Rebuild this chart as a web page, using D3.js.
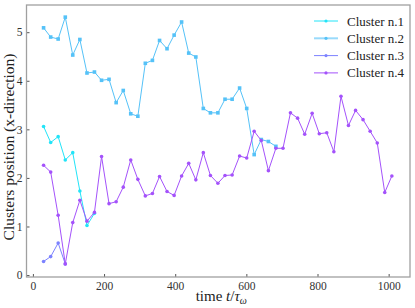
<!DOCTYPE html>
<html>
<head>
<meta charset="utf-8">
<script src="https://cdn.jsdelivr.net/npm/d3@7"></script>
<style>
  body { margin: 0; background: #fff; }
</style>
</head>
<body>
<svg id="chart"></svg>
<script>
// time of each snapshot (t / tau_w)
var times = [30, 50, 71, 91, 112, 132, 152, 173, 193, 214, 234, 254, 275, 295, 316, 336,
  356, 377, 397, 418, 438, 458, 479, 499, 520, 540, 560, 581, 601, 622, 642, 662, 683,
  703, 724, 744, 764, 785, 805, 826, 846, 866, 887, 907, 928, 948, 968, 989, 1009];

// cluster positions, each list starts at times[0]
var cluster1 = [3.06, 2.73, 2.85, 2.37, 2.52, 1.73, 1.02, 1.27];
var cluster2 = [5.09, 4.90, 4.86, 5.31, 4.53, 4.85, 4.16, 4.18, 4.01, 4.03, 3.55, 3.80,
  3.32, 3.27, 4.36, 4.42, 4.83, 4.66, 4.94, 5.21, 4.57, 4.49, 3.43, 3.34, 3.34, 3.62,
  3.62, 3.85, 3.43, 2.48, 2.79, 2.75, 2.65];
var cluster3 = [0.28, 0.38, 0.66, 0.23];
var cluster4 = [2.26, 2.12, 1.23, 0.23, 1.08, 1.54, 1.11, 1.29, 2.44, 1.47, 1.51, 1.81,
  2.37, 1.97, 1.63, 1.68, 2.03, 1.72, 1.64, 2.04, 2.30, 1.96, 2.52, 2.05, 1.89, 2.05,
  2.06, 2.45, 2.41, 2.96, 2.77, 2.15, 2.61, 2.61, 3.34, 3.23, 2.90, 3.33, 2.91, 2.93,
  2.54, 3.68, 3.08, 3.39, 3.20, 2.96, 2.72, 1.70, 2.04];

var names = ["Cluster n.1", "Cluster n.2", "Cluster n.3", "Cluster n.4"];
var xTicks = [0, 200, 400, 600, 800, 1000];
var yTicks = [0, 1, 2, 3, 4, 5];

var colors = ["#22e4f8", "#55c2f8", "#7c82ff", "#a452fb"];
var markers = ["circle", "square", "circle", "circle"];
var serif = "'Liberation Serif', 'DejaVu Serif', 'Times New Roman', serif";

var width = 415, height = 308,
  margin = {top: 5, right: 5, bottom: 31, left: 26.5},
  plotW = width - margin.left - margin.right,
  plotH = height - margin.top - margin.bottom;

var svg = d3.select("#chart")
  .attr("width", width)
  .attr("height", height);

var g = svg.append("g")
  .attr("transform", "translate(" + margin.left + "," + margin.top + ")");

var x = d3.scaleLinear().domain([-18, 1060]).range([0, plotW]),
    y = d3.scaleLinear().domain([-0.04, 5.56]).range([plotH, 0]);

// axes, ticks point inward
var xAxis = g.append("g")
  .attr("transform", "translate(0," + plotH + ")")
  .call(d3.axisBottom(x).tickValues(xTicks).tickSize(-3).tickPadding(5).tickFormat(d3.format("d")));
var yAxis = g.append("g")
  .call(d3.axisLeft(y).tickValues(yTicks).tickSize(-3).tickPadding(4).tickFormat(d3.format("d")));

[xAxis, yAxis].forEach(function(a) {
  a.attr("font-family", serif).attr("font-size", 11.5);
  a.select(".domain").remove();
  a.selectAll(".tick line").attr("stroke", "#555");
  a.selectAll(".tick text").attr("fill", "#333");
});

// frame
g.append("rect")
  .attr("width", plotW)
  .attr("height", plotH)
  .attr("fill", "none")
  .attr("stroke", "#a0a0a0")
  .attr("stroke-width", 1.3);

var series = [cluster1, cluster2, cluster3, cluster4].map(function(vals, k) {
  return {name: names[k], color: colors[k], marker: markers[k],
    pts: vals.map(function(v, i) { return {t: times[i], v: v}; })};
});

var line = d3.line()
  .x(function(d) { return x(d.t); })
  .y(function(d) { return y(d.v); });

// draw order: 2 first so the merged ones sit above it
[1, 0, 2, 3].forEach(function(k) {
  var s = series[k];
  var sg = g.append("g");
  sg.append("path")
    .datum(s.pts)
    .attr("d", line)
    .attr("fill", "none")
    .attr("stroke", s.color)
    .attr("stroke-width", 1);
  if (s.marker == "square") {
    sg.selectAll("rect").data(s.pts).enter().append("rect")
      .attr("x", function(d) { return x(d.t) - 1.8; })
      .attr("y", function(d) { return y(d.v) - 1.8; })
      .attr("width", 3.6).attr("height", 3.6)
      .attr("fill", s.color);
  } else {
    sg.selectAll("circle").data(s.pts).enter().append("circle")
      .attr("cx", function(d) { return x(d.t); })
      .attr("cy", function(d) { return y(d.v); })
      .attr("r", 1.8)
      .attr("fill", s.color);
  }
});

// legend
var leg = g.selectAll(".leg").data(series).enter().append("g")
  .attr("class", "leg")
  .attr("transform", function(d, i) { return "translate(" + (plotW - 96) + "," + (16 + i * 17.3) + ")"; });
leg.append("line")
  .attr("x1", 0).attr("x2", 24)
  .attr("stroke", function(d) { return d.color; })
  .attr("stroke-width", function(d, i) { return i == 1 ? 2 : 1; })
  .attr("stroke-opacity", function(d, i) { return i == 1 ? 0.6 : 1; });
leg.append("circle")
  .attr("cx", 12).attr("r", 1.6)
  .attr("fill", function(d) { return d.color; });
leg.append("text")
  .attr("x", 33).attr("dy", "0.35em")
  .attr("font-family", serif)
  .attr("font-size", 13)
  .attr("fill", "#222")
  .text(function(d) { return d.name; });

// axis titles
var xt = svg.append("text")
  .attr("x", margin.left + plotW / 2 + 3)
  .attr("y", 301)
  .attr("text-anchor", "middle")
  .attr("font-family", serif)
  .attr("font-size", 15)
  .attr("fill", "#222");
xt.append("tspan").text("time ");
xt.append("tspan").attr("font-style", "italic").text("t");
xt.append("tspan").text("/");
xt.append("tspan").attr("font-style", "italic").text("τ");
xt.append("tspan").attr("font-style", "italic").attr("font-size", 10).attr("dy", 3).text("ω");

svg.append("text")
  .attr("transform", "translate(9," + (margin.top + plotH / 2 + 6) + ") rotate(-90)")
  .attr("text-anchor", "middle")
  .attr("dy", "0.35em")
  .attr("font-family", serif)
  .attr("font-size", 15.5)
  .attr("fill", "#222")
  .text("Clusters position (x-direction)");
</script>
</body>
</html>
